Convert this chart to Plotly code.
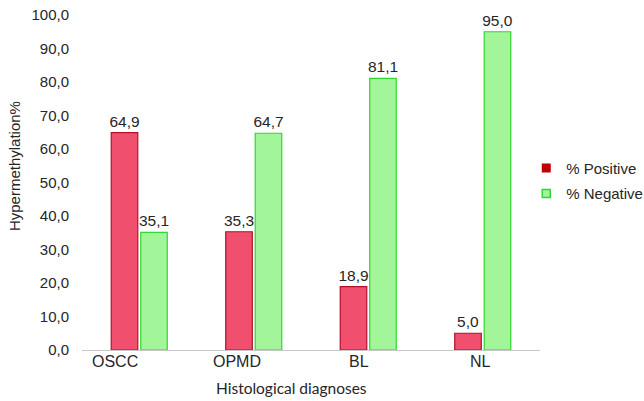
import plotly.graph_objects as go

categories = ["OSCC", "OPMD", "BL", "NL"]
positive = [64.9, 35.3, 18.9, 5.0]
negative = [35.1, 64.7, 81.1, 95.0]
series_names = ["% Positive", "% Negative"]
y_ticks = [0, 10, 20, 30, 40, 50, 60, 70, 80, 90, 100]
label_shift_px = [-24.5, -17, -9, -2.5]

FONT = "Liberation Sans, Arial, sans-serif"
TXT = "#262626"

RED_FILL = "#F0506E"
RED_LINE = "#B3102C"
GREEN_FILL = "#A3F59A"
GREEN_LINE = "#2FD82F"

fig = go.Figure()
fig.add_trace(go.Bar(
    x=categories, y=positive, name=series_names[0], showlegend=False,
    marker=dict(color=RED_FILL, line=dict(color=RED_LINE, width=1.2)),
    texttemplate="%{y:.1f}", textposition="outside", constraintext="none",
    textfont=dict(family=FONT, size=15.5, color=TXT), cliponaxis=False,
))
fig.add_trace(go.Bar(
    x=categories, y=negative, name=series_names[1], showlegend=False,
    marker=dict(color=GREEN_FILL, line=dict(color=GREEN_LINE, width=1.2)),
    texttemplate="%{y:.1f}", textposition="outside", constraintext="none",
    textfont=dict(family=FONT, size=15.5, color=TXT), cliponaxis=False,
))
# legend entries
fig.add_trace(go.Scatter(
    x=[None], y=[None], mode="markers", name=series_names[0], legendgroup="p",
    marker=dict(symbol="square", size=9, color="#C00000", line=dict(width=0)),
))
fig.add_trace(go.Scatter(
    x=[None], y=[None], mode="markers", name=series_names[1], legendgroup="n",
    marker=dict(symbol="square", size=8, color=GREEN_FILL, line=dict(color=GREEN_LINE, width=1.5)),
))

annotations = []
for cat, sh in zip(categories, label_shift_px):
    annotations.append(dict(
        x=cat, y=0, xref="x", yref="y", yanchor="top", yshift=-1, xshift=sh,
        text=cat, showarrow=False, font=dict(family=FONT, size=16, color=TXT),
    ))
annotations.append(dict(
    x=0.457, y=-0.113, xref="paper", yref="paper", xanchor="center", yanchor="middle",
    text="Histological diagnoses", showarrow=False,
    font=dict(family="Lato, Open Sans, sans-serif", size=15.5, color=TXT),
))
annotations.append(dict(
    x=-0.147, y=0.548, xref="paper", yref="paper", xanchor="center", yanchor="middle",
    text="Hypermethylation%", textangle=-90, showarrow=False,
    font=dict(family=FONT, size=15, color=TXT),
))

fig.update_layout(
    width=644, height=401,
    margin=dict(l=82, r=104, t=15, b=51, autoexpand=False),
    paper_bgcolor="white", plot_bgcolor="white",
    barmode="group", bargap=0.485, bargroupgap=0.1,
    separators=",.",
    font=dict(family=FONT, size=15, color=TXT),
    showlegend=True,
    legend=dict(x=0.97, y=0.505, xanchor="left", yanchor="middle",
                font=dict(family=FONT, size=15, color=TXT),
                bgcolor="rgba(0,0,0,0)", tracegroupgap=3),
    annotations=annotations,
    xaxis=dict(showticklabels=False, showgrid=False, zeroline=False,
               showline=True, linecolor="#C8C8C8", linewidth=1, ticks=""),
    yaxis=dict(range=[0, 100], tickvals=y_ticks, tickformat=".1f",
               showgrid=False, zeroline=False, showline=False, ticks="",
               ticklabelstandoff=12, automargin=False,
               tickfont=dict(family=FONT, size=15, color=TXT)),
)

fig.write_html("out.html", config={"displayModeBar": False},
               post_script="document.body.style.margin='0';document.body.style.padding='0';")
